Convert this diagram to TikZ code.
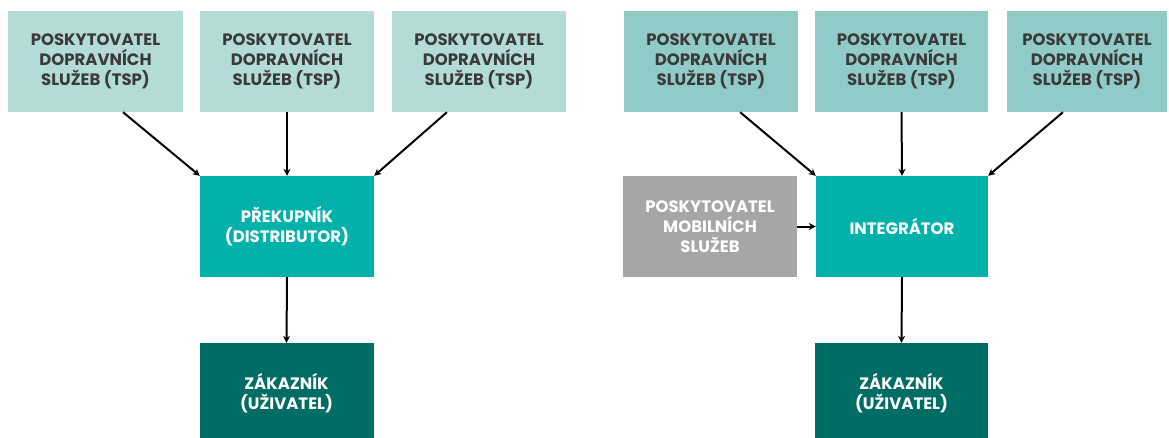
\documentclass[tikz,border=0pt]{standalone}
\usepackage{fontspec}
\setmainfont{Poppins}
\usetikzlibrary{arrows.meta,calc}
\definecolor{tspL}{HTML}{B3DCD9}
\definecolor{tspR}{HTML}{91CBC8}
\definecolor{teal}{HTML}{00B2A9}
\definecolor{dark}{HTML}{006D64}
\definecolor{grayb}{HTML}{A6A6A6}
\definecolor{txt}{HTML}{3A3A3A}
\begin{document}
\begin{tikzpicture}[x=1pt,y=-1pt,
  box/.style={rectangle, inner sep=0pt, minimum height=101pt, align=center,
    font=\fontsize{16.5}{20}\selectfont\bfseries},
  tsp/.style={box, text=txt},
  wbox/.style={box, text=white},
  arr/.style={line width=2pt, -{Stealth[length=7pt,width=7pt]}}]
\useasboundingbox (0,0) rectangle (1169,437);
\clip (0,0) rectangle (1169,437);
% left
\node[tsp, fill=tspL, minimum width=175pt] (t1) at (95.5,61.5) {POSKYTOVATEL\\DOPRAVNÍCH\\SLUŽEB (TSP)};
\node[tsp, fill=tspL, minimum width=174pt] (t2) at (287,61.5) {POSKYTOVATEL\\DOPRAVNÍCH\\SLUŽEB (TSP)};
\node[tsp, fill=tspL, minimum width=174pt] (t3) at (479,61.5) {POSKYTOVATEL\\DOPRAVNÍCH\\SLUŽEB (TSP)};
\node[wbox, fill=teal, minimum width=174pt] (mL) at (287,226.5) {PŘEKUPNÍK\\(DISTRIBUTOR)};
\node[wbox, fill=dark, minimum width=174pt] (bL) at (286.5,393.5) {ZÁKAZNÍK\\(UŽIVATEL)};
% right
\node[tsp, fill=tspR, minimum width=174pt] (t4) at (711,61.5) {POSKYTOVATEL\\DOPRAVNÍCH\\SLUŽEB (TSP)};
\node[tsp, fill=tspR, minimum width=173pt] (t5) at (901.5,61.5) {POSKYTOVATEL\\DOPRAVNÍCH\\SLUŽEB (TSP)};
\node[tsp, fill=tspR, minimum width=160pt] (t6) at (1087,61.5) {POSKYTOVATEL\\DOPRAVNÍCH\\SLUŽEB (TSP)};
\node[wbox, fill=grayb, minimum width=174pt] (g) at (710,226.5) {POSKYTOVATEL\\MOBILNÍCH\\SLUŽEB};
\node[wbox, fill=teal, minimum width=172pt] (mR) at (902,226.5) {INTEGRÁTOR};
\node[wbox, fill=dark, minimum width=173pt] (bR) at (901.5,393.5) {ZÁKAZNÍK\\(UŽIVATEL)};
% arrows left
\draw[arr] ($(t1.south west)!0.657!(t1.south east)$) -- (mL.north west);
\draw[arr] (t2.south) -- (mL.north);
\draw[arr] ($(t3.south west)!0.316!(t3.south east)$) -- (mL.north east);
\draw[arr] (mL.south) -- (bL.north);
% arrows right
\draw[arr] ($(t4.south west)!0.667!(t4.south east)$) -- (mR.north west);
\draw[arr] (t5.south) -- (mR.north);
\draw[arr] ($(t6.south west)!0.35!(t6.south east)$) -- (mR.north east);
\draw[arr] (g.east) -- (mR.west);
\draw[arr] (mR.south) -- (bR.north);
\end{tikzpicture}
\end{document}
